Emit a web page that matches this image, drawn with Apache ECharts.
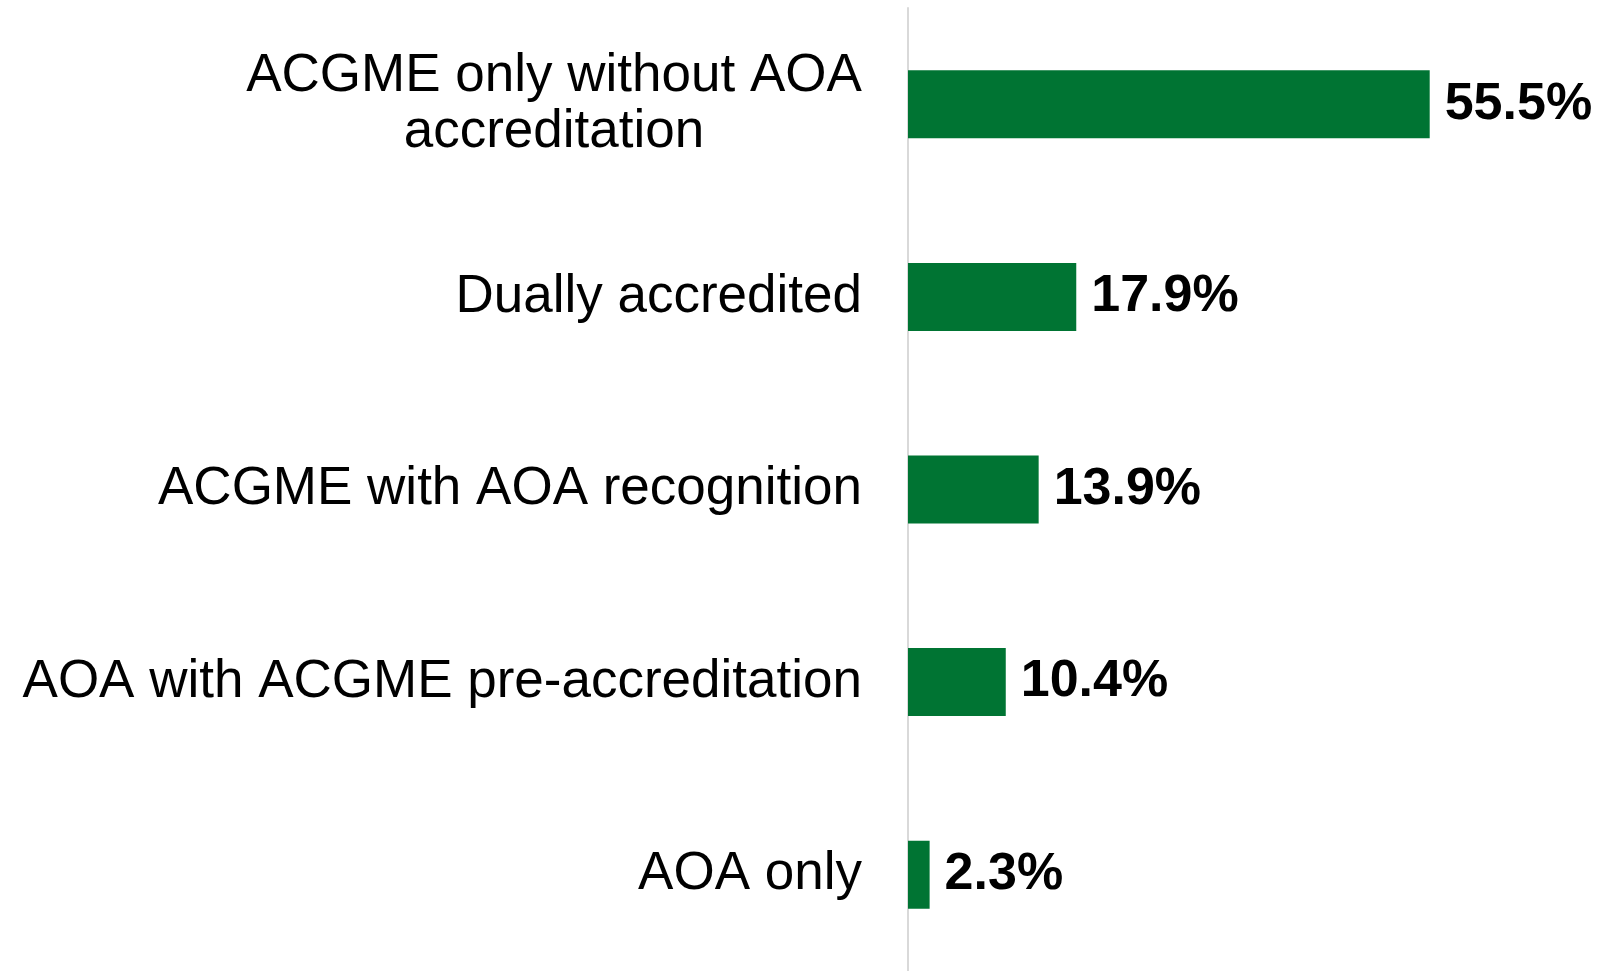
<!DOCTYPE html>
<html>
<head>
<meta charset="utf-8">
<script src="https://cdn.jsdelivr.net/npm/echarts@6/dist/echarts.min.js"></script>
<style>
    html, body {margin: 0; padding: 0; background: #fff;}
    #main {width: 1603px; height: 971px;}
</style>
</head>
<body>
<div id="main"></div>
<script>
var categories = [
    'ACGME only without AOA\naccreditation',
    'Dually accredited',
    'ACGME with AOA recognition',
    'AOA with ACGME pre-accreditation',
    'AOA only'
];
var values = [55.5, 17.9, 13.9, 10.4, 2.3];

var chart = echarts.init(document.getElementById('main'));

// the two-line label has its lines centred on each other, block kept flush right
var yData = categories.map(function (c) {
    if (c.indexOf('\n') < 0) return c
    return {value: c, textStyle: {align: 'center', padding: [0, 616, 0, 0]}}
})

var option = {
    animation: false,
    grid: {left: 908, top: 8, width: 658, height: 968},
    xAxis: {
        type: 'value',
        min: 0,
        max: 70,
        show: false
    },
    yAxis: {
        type: 'category',
        inverse: true,
        data: yData,
        axisTick: {show: false},
        axisLine: {show: true, lineStyle: {color: '#d9d9d9', width: 2}},
        axisLabel: {
            interval: 0,
            margin: 46,
            color: '#000',
            fontFamily: 'Liberation Sans, Arial, sans-serif',
            fontSize: 53,
            lineHeight: 56,
            align: 'right'
        }
    },
    series: [{
        type: 'bar',
        data: values,
        barWidth: 68,
        itemStyle: {color: '#007433'},
        label: {
            show: true,
            position: 'right',
            distance: 15,
            color: '#000',
            fontFamily: 'Liberation Sans, Arial, sans-serif',
            fontWeight: 'bold',
            fontSize: 52,
            formatter: function (p) {
                return p.value.toFixed(1) + '%'
            }
        }
    }]
};

chart.setOption(option);
</script>
</body>
</html>
